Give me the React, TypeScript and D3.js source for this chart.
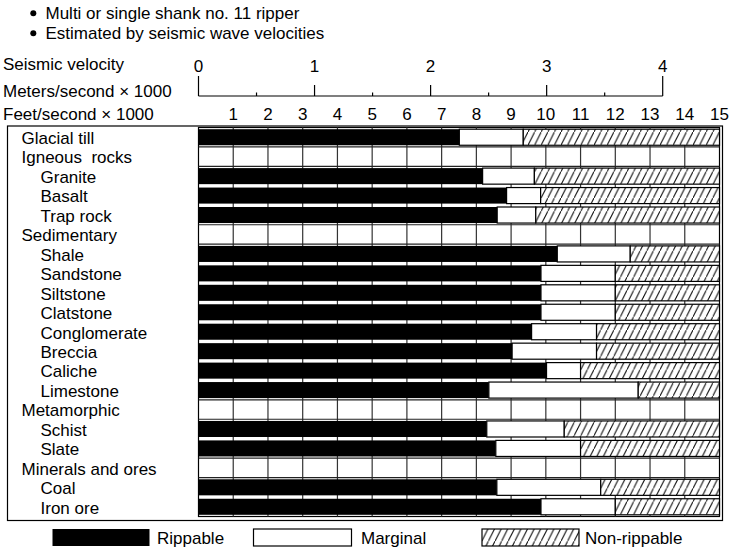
import React from "react";
import * as d3 from "d3";

const rockNames = [
  "Glacial till",
  "Igneous  rocks",
  "Granite",
  "Basalt",
  "Trap rock",
  "Sedimentary",
  "Shale",
  "Sandstone",
  "Siltstone",
  "Clatstone",
  "Conglomerate",
  "Breccia",
  "Caliche",
  "Limestone",
  "Metamorphic",
  "Schist",
  "Slate",
  "Minerals and ores",
  "Coal",
  "Iron ore",
];
const indentLevel = [0, 0, 1, 1, 1, 0, 1, 1, 1, 1, 1, 1, 1, 1, 0, 1, 1, 0, 1, 1];
// feet/second x 1000 where each zone ends (null = group heading)
const rippableEnd = [7.51, null, 8.18, 8.87, 8.6, null, 10.33, 9.86, 9.86, 9.86, 9.59, 9.03, 10.02, 8.36, null, 8.3, 8.56, null, 8.59, 9.86];
const marginalEnd = [9.35, null, 9.67, 9.85, 9.71, null, 12.43, 12.0, 12.0, 12.0, 11.46, 11.46, 11.0, 12.66, null, 10.53, 11.0, null, 11.58, 12.0];
const nonRippableEnd = [15, null, 15, 15, 15, null, 15, 15, 15, 15, 15, 15, 15, 15, null, 15, 15, null, 15, 15];

const feetTicks = [1, 2, 3, 4, 5, 6, 7, 8, 9, 10, 11, 12, 13, 14, 15];
const feetGrid = [1, 2, 3, 4, 5, 6, 7, 8, 9, 10, 11, 12, 13, 14];
const meterMajor = [0, 1, 2, 3, 4];
const meterMinor = [0.5, 1.5, 2.5, 3.5];
const notes = ["Multi or single shank no. 11 ripper", "Estimated by seismic wave velocities"];
const axisTitles = ["Seismic velocity", "Meters/second \u00d7 1000", "Feet/second \u00d7 1000"];
const legendLabels = ["Rippable", "Marginal", "Non-rippable"];

const FONT = "'Liberation Sans', Arial, Helvetica, sans-serif";
const FS = 17;

export default function App() {
  const W = 732;
  const H = 558;
  const xFeet = d3.scaleLinear().domain([0, 15]).range([198.5, 719.5]);
  const xMeters = d3.scaleLinear().domain([0, 4]).range([198.5, 662.7]);
  const y = d3.scaleBand().domain(rockNames).range([127.5, 516.5]);
  const bw = y.bandwidth();
  const inset = 1.7;

  const legendX = [52.5, 253.5, 482];
  const legendTextX = [157, 361, 585];
  const legendY = 529;

  return (
    <svg
      width={W}
      height={H}
      style={{ position: "absolute", left: 0, top: 0, display: "block", background: "#fff" }}
      fontFamily={FONT}
    >
      <defs>
        <pattern id="hatch" patternUnits="userSpaceOnUse" width={6.6} height={13.2}>
          <rect width={6.6} height={13.2} fill="#fff" />
          <path d="M0,13.2 L6.6,0 M-1,15.2 L0,13.2 M6.6,0 L7.6,-2" stroke="#000" strokeWidth={1} />
        </pattern>
      </defs>
      <rect x={0} y={0} width={W} height={H} fill="#fff" />

      {/* notes */}
      {notes.map((t, i) => (
        <g key={t}>
          <circle cx={33.3} cy={13.3 + i * 20} r={3} fill="#000" />
          <text x={45.5} y={18.5 + i * 20} fontSize={FS} fill="#000">
            {t}
          </text>
        </g>
      ))}

      {/* axis titles */}
      <text x={3} y={70} fontSize={FS}>{axisTitles[0]}</text>
      <text x={3} y={96.5} fontSize={FS}>{axisTitles[1]}</text>
      <text x={3} y={120} fontSize={FS}>{axisTitles[2]}</text>

      {/* meters axis */}
      <line x1={xMeters(0)} x2={xMeters(4)} y1={96} y2={96} stroke="#000" strokeWidth={1.2} />
      {meterMajor.map((m) => (
        <g key={"mm" + m}>
          <line
            x1={xMeters(m)}
            x2={xMeters(m)}
            y1={m === 0 || m === 4 ? 76 : 85}
            y2={96}
            stroke="#000"
            strokeWidth={1.2}
          />
          <text x={xMeters(m)} y={71.5} fontSize={FS} textAnchor="middle">
            {m}
          </text>
        </g>
      ))}
      {meterMinor.map((m) => (
        <line key={"mn" + m} x1={xMeters(m)} x2={xMeters(m)} y1={92.5} y2={96} stroke="#000" strokeWidth={1.2} />
      ))}

      {/* feet tick labels */}
      {feetTicks.map((f) => (
        <text key={"f" + f} x={xFeet(f)} y={120} fontSize={FS} textAnchor="middle">
          {f}
        </text>
      ))}

      {/* outer frame */}
      <rect x={7.5} y={126} width={715} height={394.5} fill="none" stroke="#000" strokeWidth={1.2} />

      {/* plot area */}
      <rect x={xFeet(0)} y={127.5} width={xFeet(15) - xFeet(0)} height={389} fill="#fff" stroke="#000" strokeWidth={1.2} />

      {/* vertical grid */}
      {feetGrid.map((f) => (
        <line key={"g" + f} x1={xFeet(f)} x2={xFeet(f)} y1={127.5} y2={516.5} stroke="#333" strokeWidth={1.2} />
      ))}

      {/* heading rows: horizontal lines */}
      {rockNames.map((name, i) =>
        rippableEnd[i] === null ? (
          <g key={"h" + name}>
            <line x1={xFeet(0)} x2={xFeet(15)} y1={y(name)!} y2={y(name)!} stroke="#222" strokeWidth={1.2} />
            <line x1={xFeet(0)} x2={xFeet(15)} y1={y(name)! + bw} y2={y(name)! + bw} stroke="#222" strokeWidth={1.2} />
          </g>
        ) : null
      )}

      {/* bars */}
      {rockNames.map((name, i) => {
        const r = rippableEnd[i];
        const m = marginalEnd[i];
        const n = nonRippableEnd[i];
        if (r === null || m === null || n === null) return null;
        const by = y(name)! + inset;
        const bh = bw - 2 * inset;
        return (
          <g key={"b" + name}>
            <rect x={xFeet(0)} y={by} width={xFeet(r) - xFeet(0)} height={bh} fill="#000" />
            <rect x={xFeet(r)} y={by} width={xFeet(m) - xFeet(r)} height={bh} fill="#fff" stroke="#000" strokeWidth={1.2} />
            <rect x={xFeet(m)} y={by} width={xFeet(n) - xFeet(m)} height={bh} fill="url(#hatch)" stroke="#000" strokeWidth={1.2} />
          </g>
        );
      })}

      {/* row labels */}
      {rockNames.map((name, i) => (
        <text
          key={"l" + name}
          x={indentLevel[i] ? 40.5 : 21.5}
          y={y(name)! + 16.5}
          fontSize={FS}
          style={{ whiteSpace: "pre" }}
        >
          {name}
        </text>
      ))}

      {/* legend */}
      <rect x={legendX[0]} y={legendY} width={97} height={17} fill="#000" />
      <rect x={legendX[1]} y={legendY} width={98} height={17} fill="#fff" stroke="#000" strokeWidth={1.2} />
      <rect x={legendX[2]} y={legendY} width={97} height={17} fill="url(#hatch)" stroke="#000" strokeWidth={1.2} />
      {legendLabels.map((t, i) => (
        <text key={t} x={legendTextX[i]} y={legendY + 14.5} fontSize={FS}>
          {t}
        </text>
      ))}
    </svg>
  );
}
